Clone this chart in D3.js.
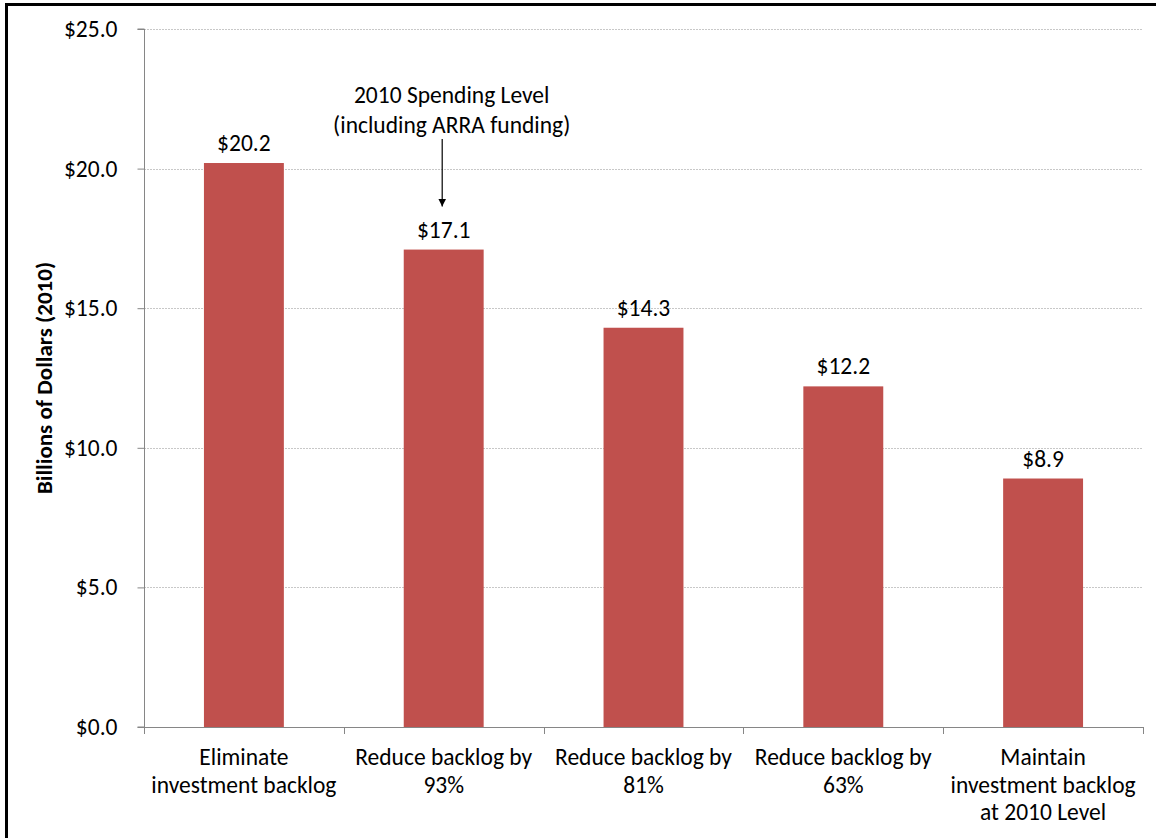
<!DOCTYPE html>
<html>
<head>
<meta charset="utf-8">
<script src="https://cdn.jsdelivr.net/npm/d3@7"></script>
<style>
  html, body { margin: 0; padding: 0; background: #fff; }
  svg { display: block; }
  text { font-family: Carlito, Lato, "Open Sans", sans-serif; fill: #000; }
</style>
</head>
<body>
<svg id="chart" width="1156" height="838"></svg>
<script>
const categories = [
  ["Eliminate", "investment backlog"],
  ["Reduce backlog by", "93%"],
  ["Reduce backlog by", "81%"],
  ["Reduce backlog by", "63%"],
  ["Maintain", "investment backlog", "at 2010 Level"]
];
const values = [20.2, 17.1, 14.3, 12.2, 8.9];
const yTicks = [0, 5, 10, 15, 20, 25];
const yTitle = "Billions of Dollars (2010)";
const annotation = ["2010 Spending Level", "(including ARRA funding)"];
const annotatedIndex = 1;

(function () {
const svg = d3.select("#chart");
const W = 1156, H = 838;
const mLeft = 144, mRight = 1143, mTop = 29, mBottom = 727;
const FS = "23.5px";

// frame
svg.append("rect").attr("x", 6.5).attr("y", 4.5).attr("width", W + 10).attr("height", H + 10)
  .attr("fill", "none").attr("stroke", "#000").attr("stroke-width", 3);

const keys = categories.map((c, i) => "c" + i);
const x = d3.scaleBand().domain(keys).range([mLeft, mRight]).paddingInner(0.6).paddingOuter(0.3);
const y = d3.scaleLinear().domain([0, 25]).range([mBottom, mTop]);

// gridlines
svg.append("g").selectAll("line").data(yTicks.filter(d => d > 0)).join("line")
  .attr("x1", mLeft).attr("x2", mRight)
  .attr("y1", d => Math.round(y(d)) + 0.5).attr("y2", d => Math.round(y(d)) + 0.5)
  .attr("stroke", "#c8c8c8").attr("stroke-width", 1).attr("stroke-dasharray", "2,1");

// bars
svg.append("g").selectAll("rect").data(values).join("rect")
  .attr("x", (d, i) => x(keys[i])).attr("width", x.bandwidth())
  .attr("y", d => y(d)).attr("height", d => y(0) - y(d))
  .attr("fill", "#C0504D");

// y axis
const yAxis = d3.axisLeft(y).tickValues(yTicks).tickSize(7).tickPadding(20)
  .tickFormat(d => "$" + d3.format(".1f")(d));
const gy = svg.append("g").attr("transform", `translate(${mLeft + 0.5},0)`).call(yAxis);
gy.select(".domain").attr("stroke", "#868686").attr("d", `M-7,${y(0)}H0V${y(25)}H-7`);
gy.selectAll(".tick line").attr("stroke", "#868686");
gy.selectAll(".tick text").style("font-size", FS).attr("fill", "#000")
  .style("font-family", "Carlito, Lato, 'Open Sans', sans-serif");

// x axis line and boundary ticks
const step = x.step();
const boundaries = d3.range(categories.length + 1).map(i => x(keys[0]) - x.paddingOuter() * step + i * step);
svg.append("line").attr("x1", mLeft).attr("x2", mRight)
  .attr("y1", y(0) + 0.5).attr("y2", y(0) + 0.5).attr("stroke", "#868686");
svg.append("g").selectAll("line").data(boundaries).join("line")
  .attr("x1", d => Math.round(d) + 0.5).attr("x2", d => Math.round(d) + 0.5)
  .attr("y1", y(0)).attr("y2", y(0) + 7).attr("stroke", "#868686");

// x labels
const xl = svg.append("g").selectAll("text").data(categories).join("text")
  .attr("text-anchor", "middle").style("font-size", FS)
  .attr("x", (d, i) => x(keys[i]) + x.bandwidth() / 2).attr("y", 765);
xl.selectAll("tspan").data(d => d).join("tspan")
  .attr("x", function() { return this.parentNode.getAttribute("x"); })
  .attr("dy", (d, i) => i === 0 ? 0 : 27.5).text(d => d);

// value labels
svg.append("g").selectAll("text").data(values).join("text")
  .attr("text-anchor", "middle").style("font-size", FS)
  .attr("x", (d, i) => x(keys[i]) + x.bandwidth() / 2)
  .attr("y", d => y(d) - 12)
  .text(d => "$" + d3.format(".1f")(d));

// y title
svg.append("text").attr("transform", `translate(52,${(mTop + mBottom) / 2}) rotate(-90)`)
  .attr("text-anchor", "middle").style("font-size", "23px").style("font-weight", "bold")
  .text(yTitle);

// annotation
const ax = x(keys[annotatedIndex]) + x.bandwidth() / 2 - 2;
svg.append("g").selectAll("text").data(annotation).join("text")
  .attr("text-anchor", "middle").style("font-size", FS)
  .attr("x", ax + 10).attr("y", (d, i) => 103 + i * 30).text(d => d);
svg.append("defs").append("marker").attr("id", "arr").attr("viewBox", "0 0 10 10")
  .attr("refX", 10).attr("refY", 5).attr("markerWidth", 8).attr("markerHeight", 8)
  .attr("markerUnits", "userSpaceOnUse").attr("orient", "auto")
  .append("path").attr("d", "M0,0L10,5L0,10Z").attr("fill", "#000");
svg.append("line").attr("x1", ax + 0.5).attr("x2", ax + 0.5)
  .attr("y1", 139).attr("y2", y(values[annotatedIndex]) - 43)
  .attr("stroke", "#000").attr("stroke-width", 1.2).attr("marker-end", "url(#arr)");
})();
</script>
</body>
</html>
